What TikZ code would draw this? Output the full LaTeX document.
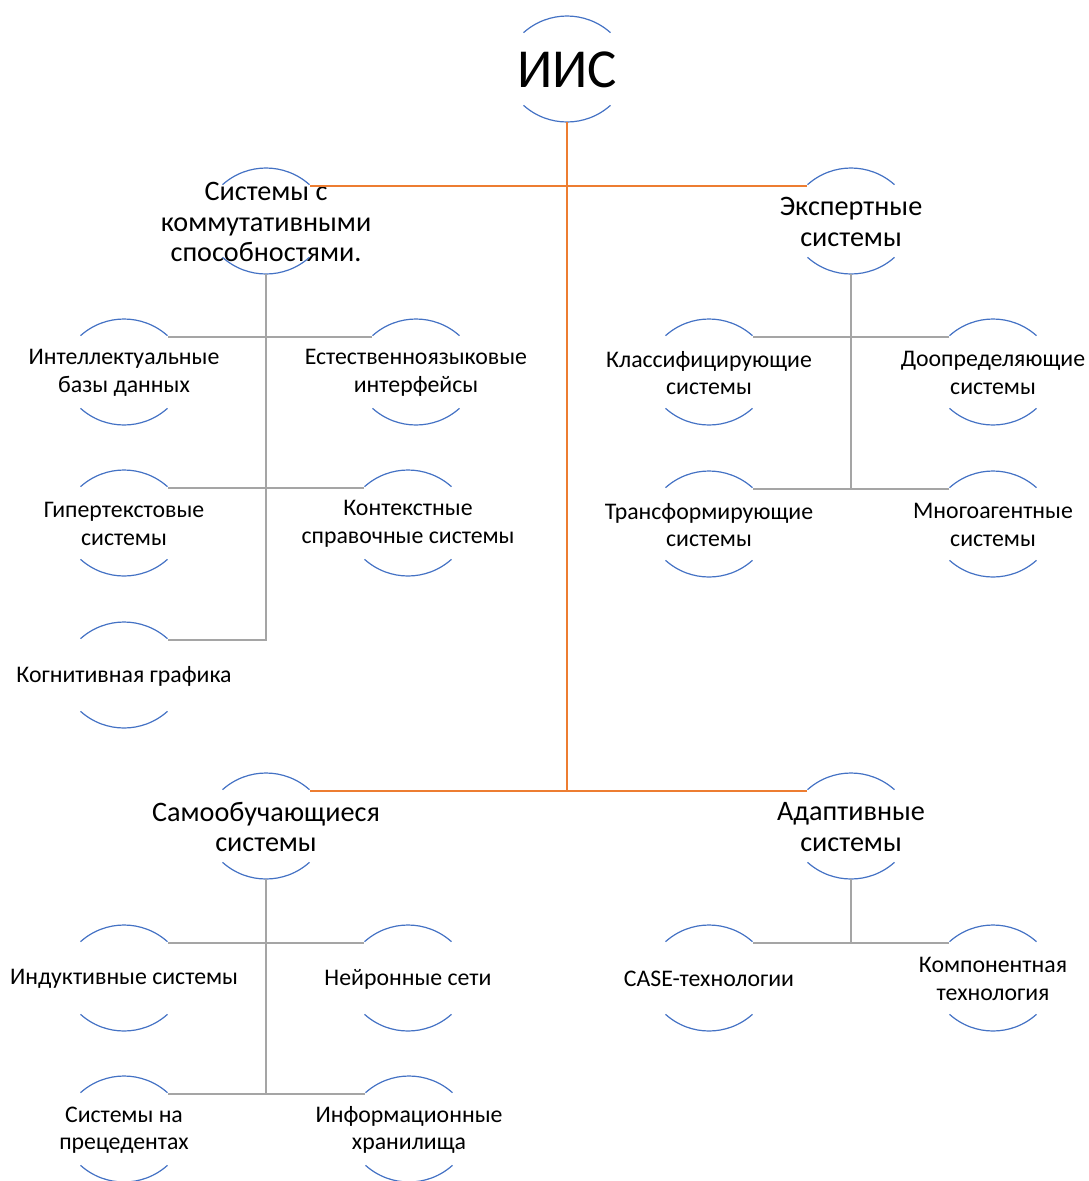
\documentclass[tikz,border=0pt]{standalone}
\usepackage{fontspec}
\setmainfont{Carlito}
\definecolor{arcblue}{HTML}{4472C4}
\definecolor{conorange}{HTML}{ED7D31}
\definecolor{congray}{HTML}{A5A5A5}
\tikzset{
  arcline/.style={draw=arcblue, line width=1.2pt},
  orangeline/.style={draw=conorange, line width=1.8pt},
  grayline/.style={draw=congray, line width=1.8pt},
  lblsmall/.style={align=center, inner sep=0pt, font=\fontsize{23.8}{27.5}\selectfont},
  lblmid/.style={align=center, inner sep=0pt, font=\fontsize{28.2}{30.5}\selectfont},
  lbltop/.style={align=center, inner sep=0pt, font=\fontsize{55}{60}\selectfont},
}
% #1 name, #2 centre x, #3 y of top of upper arc (px, downward), #4 style, #5 text
\newcommand\arcnode[5]{%
  \node[#4] (#1) at (#2,-#3-54) {#5};
  \coordinate (#1-t) at (#2,-#3);
  \coordinate (#1-b) at (#2,-#3-106);
  \coordinate (#1-tl) at (#2-44,-#3-18);
  \coordinate (#1-tr) at (#2+44,-#3-18);
  \draw[arcline] (#2-43.5,-#3-16.7) arc[start angle=132,end angle=48,radius=65];
  \draw[arcline] (#2-43.5,-#3-89.3) arc[start angle=228,end angle=312,radius=65];
}
\begin{document}
\begin{tikzpicture}[x=1pt,y=1pt]
\useasboundingbox (0,0) rectangle (1089,-1181);
\clip (0,0) rectangle (1089,-1181);
% top
\arcnode{iis}{567}{16}{lbltop}{ИИС}
% level 1
\arcnode{kom}{266}{168}{lblmid}{Системы с\\коммутативными\\способностями.}
\arcnode{exp}{851}{168}{lblmid}{Экспертные\\системы}
\arcnode{samo}{266}{773}{lblmid}{Самообучающиеся\\системы}
\arcnode{adapt}{851}{773}{lblmid}{Адаптивные\\системы}
% level 2
\arcnode{ibd}{124}{319}{lblsmall}{Интеллектуальные\\базы данных}
\arcnode{eyi}{416}{319}{lblsmall}{Естественноязыковые\\интерфейсы}
\arcnode{gip}{124}{470}{lblsmall}{Гипертекстовые\\системы}
\arcnode{kss}{408}{470}{lblsmall}{Контекстные\\справочные системы}
\arcnode{kog}{124}{622}{lblsmall}{Когнитивная графика}
\arcnode{kls}{709}{319}{lblsmall}{Классифицирующие\\системы}
\arcnode{doo}{993}{319}{lblsmall}{Доопределяющие\\системы}
\arcnode{tra}{709}{471}{lblsmall}{Трансформирующие\\системы}
\arcnode{mno}{993}{471}{lblsmall}{Многоагентные\\системы}
\arcnode{ind}{124}{925}{lblsmall}{Индуктивные системы}
\arcnode{nei}{408}{925}{lblsmall}{Нейронные сети}
\arcnode{sp}{124}{1076}{lblsmall}{Системы на\\прецедентах}
\arcnode{ih}{409}{1076}{lblsmall}{Информационные\\хранилища}
\arcnode{case}{709}{925}{lblsmall}{CASE-технологии}
\arcnode{kt}{993}{925}{lblsmall}{Компонентная\\технология}
% orange connectors
\draw[orangeline] (iis-b) -- (iis-b |- samo-tr);
\draw[orangeline] (kom-tr) -- (exp-tl);
\draw[orangeline] (samo-tr) -- (adapt-tl);
% gray connectors
\draw[grayline] (kom-b) |- (kog-tr);
\draw[grayline] (ibd-tr) -- (eyi-tl);
\draw[grayline] (gip-tr) -- (kss-tl);
\draw[grayline] (exp-b) -- (exp-b |- tra-tr);
\draw[grayline] (kls-tr) -- (doo-tl);
\draw[grayline] (tra-tr) -- (mno-tl);
\draw[grayline] (samo-b) -- (samo-b |- sp-tr);
\draw[grayline] (ind-tr) -- (nei-tl);
\draw[grayline] (sp-tr) -- (ih-tl);
\draw[grayline] (adapt-b) -- (adapt-b |- case-tr);
\draw[grayline] (case-tr) -- (kt-tl);
\end{tikzpicture}
\end{document}
